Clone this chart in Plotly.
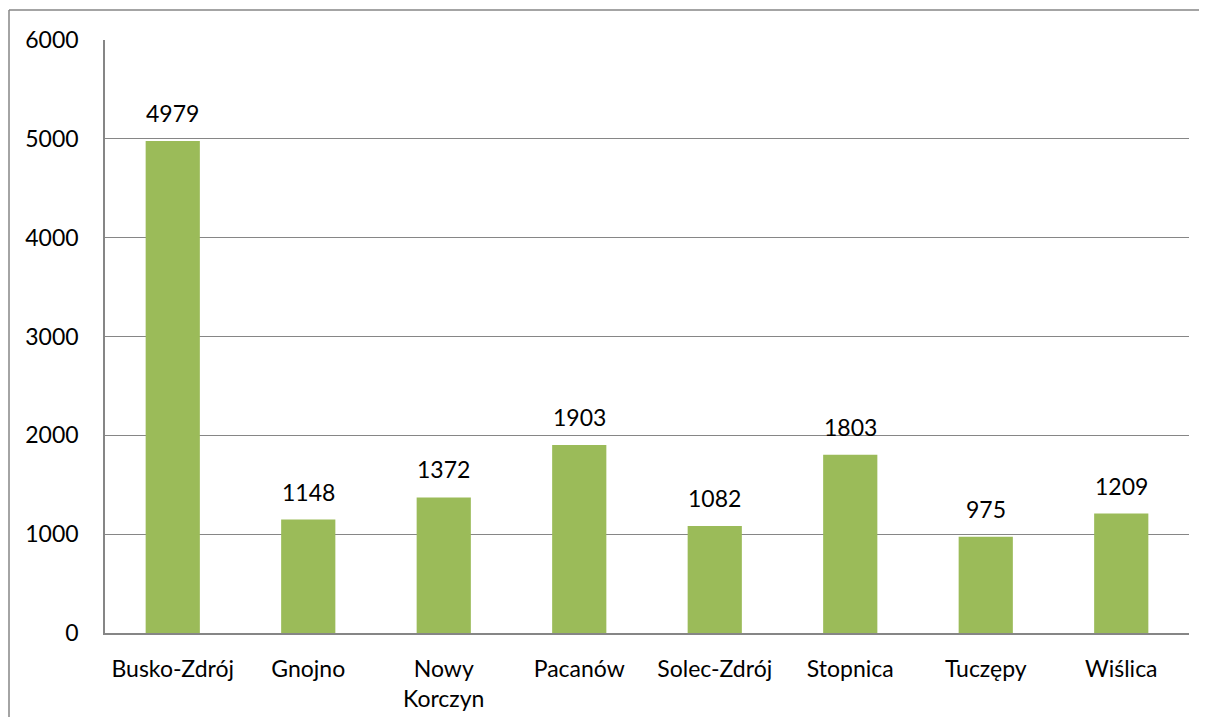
import plotly.graph_objects as go

categories = ["Busko-Zdrój", "Gnojno", "Nowy<br>Korczyn", "Pacanów", "Solec-Zdrój", "Stopnica", "Tuczępy", "Wiślica"]
values = [4979, 1148, 1372, 1903, 1082, 1803, 975, 1209]
y_ticks = [0, 1000, 2000, 3000, 4000, 5000, 6000]

# page has an 8px body margin; figure kept inside the viewport so no scrollbars appear
W, H = 1191, 709
L, R, T, B = 97, 10, 32, 84
pw, ph = W - L - R, H - T - B
FONT = "Lato"
FS = 23
GRAY = "#868686"

fig = go.Figure()
fig.add_trace(go.Bar(
    x=categories, y=values,
    marker=dict(color="#9BBB59", line=dict(width=0)),
    hoverinfo="x+y",
))

for c, v in zip(categories, values):
    fig.add_annotation(x=c, y=v, text=str(v), showarrow=False,
                       yshift=28, font=dict(family=FONT, size=FS, color="#000000"))

# outer chart border: top and left edges only (others fall outside the picture)
bx0 = (1 - L) / pw
by1 = 1 + (T - 2) / ph
fig.add_shape(type="line", xref="paper", yref="paper",
              x0=bx0, x1=(W - L) / pw, y0=by1, y1=by1,
              line=dict(color=GRAY, width=1.5), layer="below")
fig.add_shape(type="line", xref="paper", yref="paper",
              x0=bx0, x1=bx0, y0=-B / ph, y1=by1,
              line=dict(color=GRAY, width=1.5), layer="below")

fig.update_layout(
    width=W, height=H,
    margin=dict(l=L, r=R, t=T, b=B, pad=0, autoexpand=False),
    paper_bgcolor="white", plot_bgcolor="white",
    bargap=0.6, showlegend=False,
    font=dict(family=FONT, size=FS, color="#000000"),
)
fig.update_xaxes(showgrid=False, showline=True, linecolor=GRAY, linewidth=1.5, automargin=False,
                 ticks="", ticklabelstandoff=15, tickfont=dict(family=FONT, size=FS))
fig.update_yaxes(range=[0, 6000], tickvals=y_ticks, showgrid=True, gridcolor=GRAY, gridwidth=1.3,
                 showline=True, linecolor=GRAY, linewidth=1.5, zeroline=False, automargin=False,
                 ticks="", ticklabelstandoff=20, tickfont=dict(family=FONT, size=FS))

fig.write_html("out.html", config={"displayModeBar": False})
